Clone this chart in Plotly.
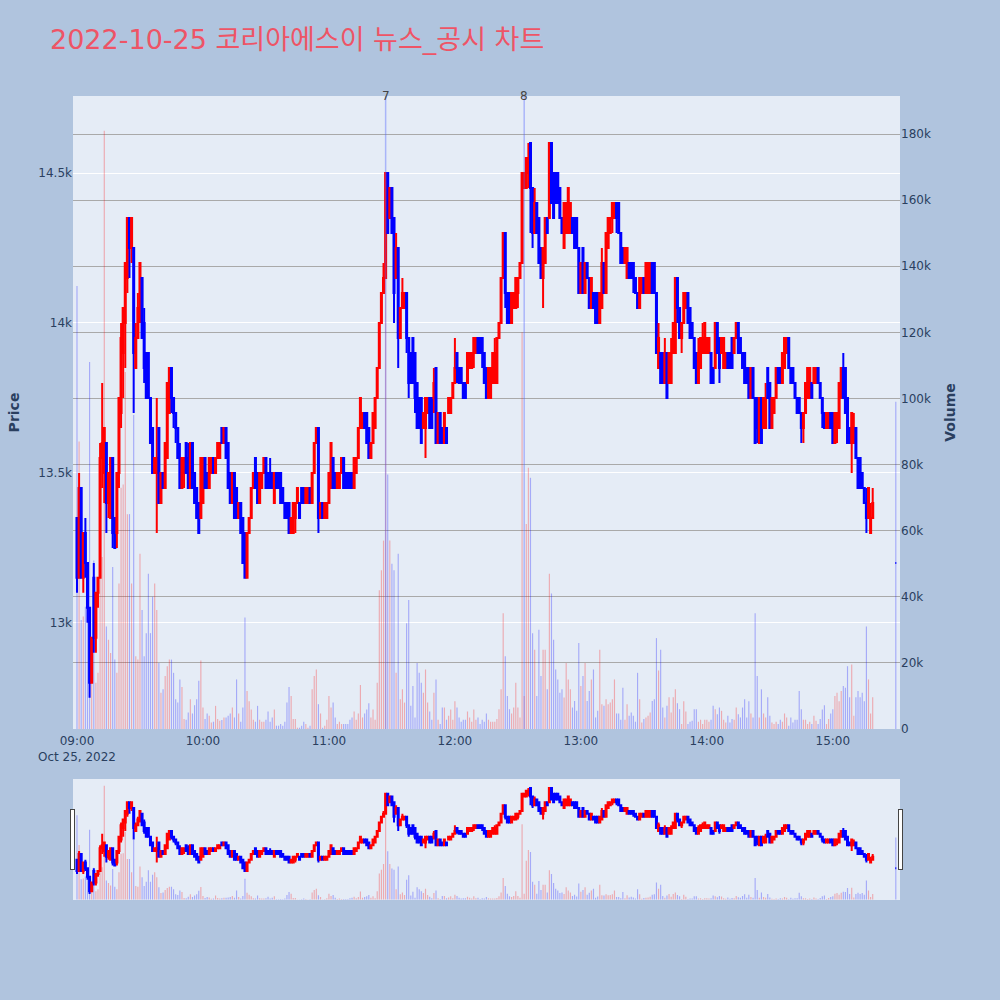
import pandas as pd
import plotly.graph_objects as go

# ---- data ----
minute_times = list(pd.date_range("2022-10-25 09:00", periods=380, freq="min"))
close_auction_time = [pd.Timestamp("2022-10-25 15:30")]
times = minute_times + close_auction_time

opens = [
13350,13150,13450,13150,13300,13200,13050,12800,13150,12950,
13100,13150,13550,13500,13600,13400,13350,13550,13350,13300,
13500,13700,13900,14000,14150,14350,14250,14250,13850,13950,
14050,14150,14000,13900,13900,13750,13650,13500,13500,13650,
13400,13500,13450,13550,13700,13850,13750,13700,13650,13550,
13450,13500,13600,13550,13450,13600,13500,13450,13400,13350,
13400,13550,13500,13450,13500,13550,13500,13550,13550,13650,
13600,13650,13600,13500,13400,13500,13450,13350,13400,13350,
13300,13150,13300,13350,13450,13550,13500,13400,13450,13500,
13550,13500,13500,13500,13400,13500,13500,13500,13450,13400,
13400,13400,13300,13300,13350,13400,13400,13450,13450,13400,
13400,13450,13400,13500,13600,13650,13350,13400,13350,13350,
13400,13450,13550,13500,13450,13450,13500,13550,13500,13500,
13500,13500,13450,13500,13550,13650,13650,13700,13700,13650,
13550,13600,13650,13750,13850,14000,14100,14150,14500,14350,
14450,14350,14150,14250,13950,14050,14050,14100,13950,13900,
13950,13900,13800,13750,13750,13650,13650,13700,13750,13750,
13750,13850,13600,13700,13650,13600,13650,13700,13700,13750,
13800,13900,13850,13850,13800,13800,13800,13850,13850,13900,
13900,13950,13950,13950,13900,13850,13750,13750,13800,13800,
13800,13950,14000,14150,14300,14100,14100,14000,14050,14050,
14100,14150,14200,14450,14450,14500,14600,14450,14300,14400,
14350,14250,14150,14200,14350,14350,14600,14500,14500,14500,
14450,14350,14250,14300,14300,14300,14350,14350,14350,14250,
14100,14250,14100,14200,14150,14050,14100,14100,14100,14000,
14050,14200,14100,14250,14300,14350,14350,14400,14400,14300,
14250,14200,14150,14200,14200,14200,14150,14100,14050,14100,
14150,14100,14100,14100,14200,14200,14100,13850,13900,13900,
13800,13900,13800,13800,13900,13900,14150,14050,13950,14000,
14050,14100,14050,14000,13950,13900,13800,13850,13900,13900,
13900,13900,13900,13850,13850,14000,13950,13900,13850,13850,
13900,13900,13950,13900,13950,14000,13950,13900,13900,13850,
13850,13750,13850,13750,13750,13600,13750,13650,13650,13850,
13800,13650,13700,13750,13850,13850,13800,13850,13900,13950,
13850,13850,13800,13750,13750,13700,13650,13700,13750,13750,
13800,13800,13800,13850,13800,13750,13700,13650,13650,13700,
13700,13600,13650,13650,13750,13850,13850,13750,13650,13600,
13600,13650,13550,13550,13500,13450,13400,13350,13300,13350,
13200]

highs = [
13350,13500,13450,13300,13350,13200,13050,12950,13200,13100,
13150,13600,13800,13650,13600,13500,13550,13550,13350,13500,
13750,14000,14050,14200,14350,14350,14350,14250,14000,14100,
14200,14150,14050,13900,13900,13750,13650,13550,13750,13650,
13500,13500,13600,13800,13850,13850,13750,13700,13650,13600,
13550,13550,13600,13600,13600,13600,13500,13450,13400,13550,
13550,13550,13500,13550,13550,13550,13550,13600,13600,13650,
13650,13650,13600,13500,13500,13500,13450,13400,13400,13350,
13300,13300,13350,13450,13500,13550,13500,13500,13500,13550,
13550,13500,13550,13500,13500,13500,13500,13500,13450,13400,
13400,13400,13350,13400,13400,13450,13400,13450,13450,13450,
13450,13450,13500,13600,13650,13650,13400,13400,13400,13400,
13500,13600,13550,13500,13500,13500,13550,13550,13500,13500,
13500,13500,13550,13550,13650,13750,13700,13700,13700,13650,
13600,13700,13750,13850,14000,14100,14200,14500,14500,14450,
14450,14350,14300,14250,14050,14150,14100,14100,13950,13900,
13950,13900,13800,13750,13750,13700,13750,13750,13750,13750,
13850,13850,13700,13700,13650,13700,13650,13750,13750,13800,
13950,13900,13850,13850,13800,13800,13900,13900,13900,13950,
13950,13950,13950,13950,13900,13850,13850,13850,13900,13950,
13950,14000,14150,14300,14300,14100,14100,14100,14100,14150,
14150,14200,14500,14500,14550,14600,14600,14450,14450,14400,
14350,14250,14250,14350,14350,14600,14600,14500,14500,14500,
14450,14350,14400,14400,14450,14400,14350,14350,14350,14250,
14200,14250,14200,14200,14150,14150,14100,14100,14100,14100,
14250,14200,14300,14350,14350,14400,14400,14400,14400,14300,
14250,14250,14250,14200,14200,14200,14150,14100,14150,14150,
14150,14200,14200,14200,14200,14200,14100,14000,13900,13900,
13950,13900,13900,13950,14000,14150,14150,14050,14000,14100,
14100,14100,14050,14000,13950,13900,13950,13950,14000,14000,
13950,13950,13900,13850,14000,14000,13950,13950,13950,13900,
13900,13900,13950,13950,14000,14000,13950,13900,13900,13850,
13850,13850,13850,13750,13750,13750,13750,13750,13800,13850,
13800,13750,13750,13850,13850,13850,13900,13950,13950,13950,
13850,13850,13800,13750,13750,13700,13700,13800,13850,13850,
13800,13850,13850,13850,13800,13750,13700,13700,13700,13700,
13700,13700,13700,13800,13850,13900,13850,13750,13650,13700,
13700,13650,13550,13550,13500,13450,13450,13450,13400,13450,
13200]

lows = [
13100,13150,13150,13100,13150,13000,12750,12800,12900,12900,
13050,13150,13450,13400,13300,13350,13350,13250,13250,13250,
13450,13650,13750,13850,14100,14150,14200,13700,13850,13950,
14000,13950,13800,13750,13750,13600,13500,13500,13300,13400,
13400,13450,13450,13550,13700,13700,13650,13600,13550,13450,
13450,13450,13500,13450,13450,13450,13400,13350,13300,13350,
13400,13450,13450,13450,13500,13500,13500,13550,13550,13600,
13600,13550,13450,13400,13400,13350,13350,13350,13300,13200,
13150,13150,13300,13350,13450,13450,13400,13400,13450,13500,
13450,13450,13450,13450,13400,13450,13450,13400,13400,13350,
13350,13300,13300,13300,13300,13400,13350,13400,13400,13400,
13400,13400,13400,13500,13600,13300,13350,13350,13350,13350,
13400,13450,13450,13450,13450,13450,13500,13450,13450,13450,
13450,13450,13450,13500,13550,13650,13650,13650,13600,13550,
13550,13600,13650,13750,13850,14000,14100,14150,14300,14350,
14300,14000,14150,13850,13950,14050,14050,13900,13750,13800,
13800,13700,13650,13650,13600,13650,13550,13700,13650,13650,
13700,13600,13600,13600,13600,13600,13600,13700,13700,13750,
13800,13800,13800,13800,13750,13750,13800,13850,13850,13850,
13900,13900,13900,13850,13800,13750,13750,13750,13800,13800,
13800,13950,14000,14150,14050,14000,14000,14000,14050,14050,
14050,14150,14200,14450,14450,14450,14300,14250,14300,14300,
14200,14150,14050,14200,14300,14350,14400,14350,14400,14400,
14350,14300,14250,14300,14300,14300,14300,14250,14250,14100,
14100,14100,14100,14150,14050,14050,14050,14000,14000,14000,
14050,14100,14100,14250,14300,14300,14350,14300,14300,14200,
14200,14200,14150,14150,14150,14100,14100,14050,14050,14100,
14100,14100,14100,14100,14100,14100,13900,13850,13800,13800,
13800,13750,13800,13800,13900,13900,14000,13950,13900,14000,
14050,14000,13950,13950,13850,13800,13800,13850,13900,13900,
13900,13900,13800,13800,13850,13900,13800,13900,13850,13850,
13850,13850,13850,13900,13950,13900,13900,13850,13800,13800,
13750,13750,13750,13600,13600,13600,13600,13650,13650,13750,
13650,13650,13700,13750,13800,13800,13800,13850,13900,13850,
13800,13800,13750,13700,13700,13600,13600,13700,13750,13750,
13750,13800,13800,13800,13750,13650,13650,13650,13650,13650,
13600,13600,13600,13650,13750,13750,13700,13600,13600,13500,
13600,13550,13450,13450,13450,13400,13300,13350,13300,13350,
13200]

closes = [
13150,13450,13150,13300,13200,13050,12800,12950,12950,13100,
13150,13550,13600,13650,13400,13500,13550,13300,13250,13500,
13750,13950,14050,14200,14350,14250,14350,13900,13950,14050,
14200,13950,13850,13750,13750,13600,13500,13550,13550,13400,
13500,13450,13600,13800,13850,13750,13700,13650,13550,13450,
13550,13550,13500,13450,13600,13450,13400,13350,13300,13550,
13550,13450,13450,13550,13550,13500,13550,13600,13600,13600,
13650,13550,13450,13400,13500,13350,13350,13400,13300,13200,
13150,13300,13350,13450,13500,13450,13400,13500,13500,13550,
13450,13450,13450,13450,13500,13450,13450,13400,13400,13350,
13350,13300,13350,13400,13400,13450,13350,13400,13400,13450,
13450,13400,13500,13600,13650,13350,13400,13350,13400,13400,
13500,13600,13450,13450,13500,13500,13550,13450,13450,13450,
13450,13450,13550,13550,13650,13750,13700,13650,13600,13550,
13600,13700,13750,13850,14000,14100,14150,14500,14300,14450,
14300,14100,14250,13950,14050,14100,14100,13950,13800,13800,
13800,13750,13650,13650,13600,13700,13750,13750,13650,13650,
13800,13600,13700,13600,13600,13700,13600,13750,13750,13800,
13850,13850,13800,13800,13750,13750,13900,13900,13900,13950,
13950,13900,13900,13900,13800,13750,13850,13850,13900,13900,
13950,14000,14150,14300,14100,14000,14000,14100,14100,14150,
14150,14200,14500,14500,14550,14550,14450,14300,14400,14300,
14200,14150,14250,14350,14300,14600,14400,14350,14400,14400,
14350,14300,14400,14400,14450,14400,14300,14250,14250,14100,
14200,14100,14200,14150,14050,14150,14050,14000,14000,14100,
14200,14100,14300,14350,14350,14400,14400,14350,14300,14200,
14200,14250,14250,14150,14150,14150,14100,14050,14150,14150,
14100,14200,14200,14200,14100,14100,13900,13950,13800,13800,
13900,13750,13900,13900,14000,14150,14050,13950,14000,14100,
14100,14000,13950,13950,13850,13800,13900,13950,13950,14000,
13950,13950,13800,13800,14000,13900,13850,13950,13950,13900,
13850,13850,13850,13950,14000,13900,13900,13850,13800,13800,
13750,13850,13750,13600,13650,13750,13600,13750,13750,13750,
13650,13750,13750,13850,13800,13800,13900,13950,13950,13850,
13800,13800,13750,13700,13700,13650,13700,13800,13850,13850,
13750,13850,13850,13800,13750,13700,13650,13700,13700,13650,
13600,13700,13700,13800,13850,13750,13700,13600,13600,13700,
13650,13550,13450,13450,13450,13400,13350,13450,13350,13400,
13200]

volumes = [
134000,87000,33000,34000,37000,50000,111000,20000,51000,14000,
17000,54000,52000,181000,31000,27000,23000,49000,21000,17000,
44000,73000,74000,108000,65000,65000,44000,95000,22000,21000,
53000,36000,22000,29000,47000,29000,40000,44000,36000,20000,
11000,12000,16000,19000,21000,21000,17000,9000,8000,15000,
12700,3000,2800,5000,9000,4700,7200,9000,14600,20700,
6500,3000,4700,4000,2000,2200,7000,3000,2500,2700,
3500,3500,4000,4700,6500,3500,15000,4700,2200,6500,
33700,11500,8400,5900,2800,2200,7000,2800,2200,2200,
2800,5300,2200,3500,5900,1000,1000,1500,1000,2200,
8000,12700,10000,3000,3000,400,400,1000,2200,1500,
400,1000,12000,16000,18000,7500,4700,400,1000,2800,
10000,6500,8000,3500,1500,2200,1500,1500,1500,1500,
2800,3500,5300,2800,4700,13300,3500,4700,5900,7800,
3500,5900,2800,14000,42000,48000,57000,165000,77000,57000,
50000,48000,17000,53000,9000,12000,8000,32000,39000,7000,
13000,3500,20000,17000,14000,11000,18000,8000,5300,2800,
11000,15000,2800,1500,6500,6500,2800,4000,5900,2800,
8400,6500,3500,2200,2800,2800,5300,3500,2200,5900,
2800,3500,1500,2800,2200,4700,2800,2200,2200,2200,
3000,6000,12000,35000,22000,10000,6000,4700,6500,14000,
6500,3500,120000,10000,62000,79000,76000,29000,24000,10000,
30000,16000,24000,24000,12000,47000,41000,27000,18000,15000,
11000,12000,9500,20000,15000,12000,6500,8500,5500,26000,
13000,16000,20000,8500,11500,15000,18000,3500,5500,24000,
7500,7000,9000,7500,8000,9000,15000,4700,4700,2800,
12500,2800,7500,4000,5000,4000,2200,17000,9000,2000,
3000,3500,4000,5000,8500,9000,27500,17700,24000,6500,
3500,7000,9600,5000,9600,12000,7800,6000,1500,8400,
5300,1500,2200,2500,6000,6000,2200,2800,1500,2800,
2800,2200,2800,7000,6000,4500,6500,5500,2800,2000,
4000,2000,3000,2800,6500,4500,3500,6500,9000,3500,
8400,4700,3500,35000,16000,3500,12000,4700,3500,9600,
4000,2000,1500,2200,1500,2800,2200,4700,3500,1000,
3500,2000,2800,2800,11500,6000,2800,2800,1500,2200,
1500,4000,2500,1500,3000,5900,7200,1500,3000,4700,
6000,10000,11000,8400,11500,13000,12500,19000,9600,19500,
4000,9600,11500,9600,11000,8400,31000,15000,4700,9600,
99000]

news_times = ["2022-10-25 11:27", "2022-10-25 12:33"]
news_labels = ["7", "8"]

title_text = "2022-10-25 코리아에스이 뉴스_공시 차트"

# ---- figure ----
vol_colors = ["rgba(255,0,0,0.28)" if c > o else "rgba(0,0,255,0.28)"
              for o, c in zip(opens, closes)]

fig = go.Figure()
fig.add_trace(go.Candlestick(
    x=times, open=opens, high=highs, low=lows, close=closes,
    increasing=dict(line=dict(color="#FF0000", width=2), fillcolor="#FF0000"),
    decreasing=dict(line=dict(color="#0000FF", width=2), fillcolor="#0000FF"),
    name="Price", yaxis="y", showlegend=False))
fig.add_trace(go.Bar(
    x=times, y=volumes, marker=dict(color=vol_colors, line=dict(width=0)),
    name="Volume", yaxis="y2", showlegend=False))

for t, lab in zip(news_times, news_labels):
    fig.add_shape(type="line", x0=t, x1=t, y0=0, y1=1, xref="x", yref="paper",
                  line=dict(color="rgba(80,100,255,0.4)", width=1.5))
    fig.add_annotation(x=t, y=1, xref="x", yref="paper", text=lab,
                       showarrow=False, yanchor="middle",
                       font=dict(size=12, color="#444"))

fig.update_layout(
    width=1000, height=1000,
    font=dict(family="DejaVu Sans, Noto Sans CJK KR, sans-serif"),
    paper_bgcolor="#B0C4DE", plot_bgcolor="#E5ECF6",
    margin=dict(l=73, r=100, t=96, b=100),
    title=dict(text=title_text, x=0.05, xanchor="left", y=0.96, yanchor="middle",
               font=dict(size=27, color="#EE5466")),
    showlegend=False,
    bargap=0.45,
    xaxis=dict(type="date",
               range=["2022-10-25 08:58:06", "2022-10-25 15:32"],
               showgrid=False, ticks="outside", ticklen=1,
               tickcolor="rgba(0,0,0,0)",
               rangeslider=dict(visible=True, thickness=0.15, bgcolor="#E5ECF6")),
    yaxis=dict(title=dict(text="<b>Price</b>"), range=[12646, 14757],
               side="left", gridcolor="white", zeroline=False),
    yaxis2=dict(title=dict(text="<b>Volume</b>"), range=[0, 191500],
                side="right", overlaying="y", gridcolor="#A9A9A9",
                showgrid=True, zeroline=False),
)

fig.write_html("out.html", config={"displayModeBar": False},
               post_script="document.body.style.margin='0px';")
